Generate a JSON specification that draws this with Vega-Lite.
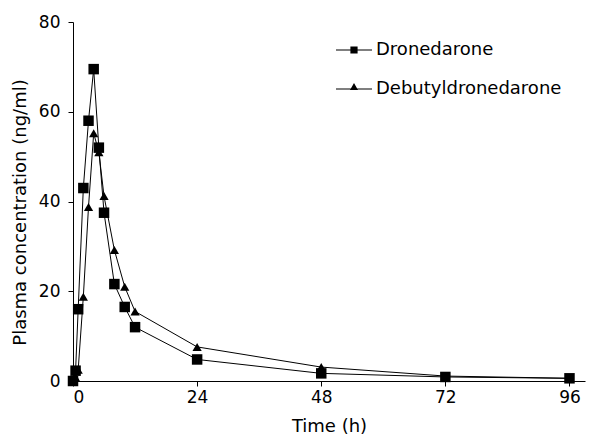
{
  "$schema": "https://vega.github.io/schema/vega-lite/v6.json",
  "width": 512,
  "height": 359,
  "autosize": {"type": "none"},
  "padding": {"left": 73, "top": 22, "right": 6, "bottom": 63},
  "background": "white",
  "config": {
    "view": {"stroke": null},
    "font": "DejaVu Sans",
    "axis": {
      "grid": false,
      "domainColor": "black",
      "domainWidth": 1,
      "tickColor": "black",
      "tickWidth": 1,
      "tickSize": 5,
      "labelColor": "black",
      "labelFont": "DejaVu Sans",
      "labelFontSize": 17,
      "titleColor": "black",
      "titleFont": "DejaVu Sans",
      "titleFontSize": 18,
      "titleFontWeight": "normal"
    }
  },
  "data": {
    "values": [
      {"series": "Debutyldronedarone", "t": 0, "c": 0},
      {"series": "Debutyldronedarone", "t": 0.5, "c": 0.8},
      {"series": "Debutyldronedarone", "t": 1, "c": 2.5},
      {"series": "Debutyldronedarone", "t": 2, "c": 18.8},
      {"series": "Debutyldronedarone", "t": 3, "c": 38.8},
      {"series": "Debutyldronedarone", "t": 4, "c": 55.2},
      {"series": "Debutyldronedarone", "t": 5, "c": 51},
      {"series": "Debutyldronedarone", "t": 6, "c": 41.2},
      {"series": "Debutyldronedarone", "t": 8, "c": 29.2},
      {"series": "Debutyldronedarone", "t": 10, "c": 21},
      {"series": "Debutyldronedarone", "t": 12, "c": 15.5},
      {"series": "Debutyldronedarone", "t": 24, "c": 7.6},
      {"series": "Debutyldronedarone", "t": 48, "c": 3.1},
      {"series": "Debutyldronedarone", "t": 72, "c": 1.1},
      {"series": "Debutyldronedarone", "t": 96, "c": 0.6},
      {"series": "Dronedarone", "t": 0, "c": 0},
      {"series": "Dronedarone", "t": 0.5, "c": 2.3},
      {"series": "Dronedarone", "t": 1, "c": 16},
      {"series": "Dronedarone", "t": 2, "c": 43},
      {"series": "Dronedarone", "t": 3, "c": 58},
      {"series": "Dronedarone", "t": 4, "c": 69.5},
      {"series": "Dronedarone", "t": 5, "c": 52},
      {"series": "Dronedarone", "t": 6, "c": 37.5},
      {"series": "Dronedarone", "t": 8, "c": 21.6},
      {"series": "Dronedarone", "t": 10, "c": 16.5},
      {"series": "Dronedarone", "t": 12, "c": 12},
      {"series": "Dronedarone", "t": 24, "c": 4.8},
      {"series": "Dronedarone", "t": 48, "c": 1.7},
      {"series": "Dronedarone", "t": 72, "c": 0.9},
      {"series": "Dronedarone", "t": 96, "c": 0.6}
    ]
  },
  "encoding": {
    "x": {
      "field": "t",
      "type": "quantitative",
      "scale": {"domain": [0, 99], "nice": false, "zero": false},
      "axis": {"values": [0, 24, 48, 72, 96], "title": "Time (h)", "labelPadding": 3, "titlePadding": 12}
    },
    "y": {
      "field": "c",
      "type": "quantitative",
      "scale": {"domain": [0, 80], "nice": false},
      "axis": {"values": [0, 20, 40, 60, 80], "title": "Plasma concentration (ng/ml)", "labelPadding": 8, "titlePadding": 9, "titleY": 190}
    }
  },
  "layer": [
    {
      "mark": {"type": "line", "color": "black", "strokeWidth": 1},
      "encoding": {"detail": {"field": "series"}}
    },
    {
      "mark": {"type": "point", "filled": true, "color": "black", "opacity": 1},
      "encoding": {
        "shape": {
          "field": "series",
          "scale": {"domain": ["Dronedarone", "Debutyldronedarone"], "range": ["square", "triangle-up"]},
          "legend": null
        },
        "size": {
          "field": "series",
          "scale": {"domain": ["Dronedarone", "Debutyldronedarone"], "range": [110, 85]},
          "legend": null
        }
      }
    },
    {
      "mark": {"type": "point", "filled": true, "color": "black", "opacity": 0},
      "encoding": {
        "shape": {
          "field": "series",
          "scale": {
            "domain": ["Dronedarone", "Debutyldronedarone"],
            "range": ["M-1,-0.03H1V0.03H-1ZM-0.2,-0.2H0.2V0.2H-0.2Z", "M-1,-0.03H1V0.03H-1ZM0,-0.33L0.22,0.06H-0.22Z"]
          },
          "legend": {
            "title": null,
            "orient": "none",
            "legendX": 263,
            "legendY": 10,
            "padding": 0,
            "symbolSize": 1296,
            "symbolOpacity": 1,
            "symbolFillColor": "black",
            "symbolStrokeColor": "black",
            "symbolStrokeWidth": 0,
            "labelFont": "DejaVu Sans",
            "labelFontSize": 18,
            "labelColor": "black",
            "labelOffset": 4,
            "labelLimit": 0,
            "rowPadding": 12
          }
        }
      }
    }
  ],
  "resolve": {"scale": {"shape": "independent", "size": "independent"}, "legend": {"shape": "independent"}}
}
